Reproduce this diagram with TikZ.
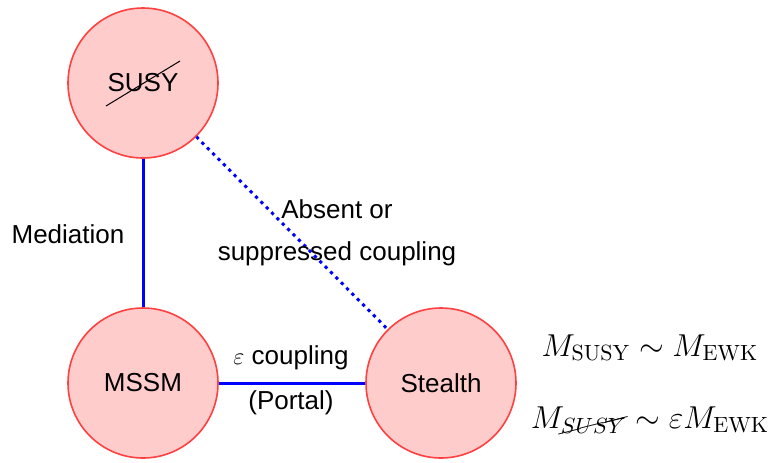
\documentclass[tikz,border=0pt]{standalone}
\usepackage{amssymb,amsmath}
\usepackage{cancel}
\usepackage{fontspec}
\setsansfont{Liberation Sans}
\usetikzlibrary{positioning}

\begin{document}
\begin{tikzpicture}[x=0.5pt,y=-0.5pt,
  sector/.style={circle,draw=red!75,fill=red!20,line width=0.8pt,minimum size=75pt},
  link/.style={blue,line width=1.5pt},
  weak/.style={blue,line width=1.5pt,dash pattern=on 1.6pt off 2.2pt},
  lbl/.style={font=\sffamily\fontsize{13}{21}\selectfont,align=center,inner sep=0pt}]
  \useasboundingbox (0,0) rectangle (773,462);

  % the three sectors
  \foreach \x/\y/\n/\t in {143/83/susy/SUSY, 143/383/mssm/MSSM, 441/383/stealth/Stealth}
    \node[lbl,sector] (\n) at (\x,\y) {\t};
  \draw[line width=0.5pt] (susy) ++(-37,23) -- ++(74,-45);

  \draw[link] (susy) -- (mssm);
  \draw[link] (mssm) -- (stealth);
  \draw[weak] (susy) -- (stealth);

  \node[lbl] (mediation) at (68,234) {Mediation};
  \node[lbl] (absent) at (337,233) {Absent or\\suppressed coupling};
  \node[lbl] (eps) at (291,358) {$\varepsilon$ coupling};
  \node[lbl] (portal) at (291,403) {(Portal)};

  % mass scales
  \node[font=\Large,scale=1.1] (mass) at (650,348) {$M_{\mathrm{SUSY}} \sim M_{\mathrm{EWK}}$};
  \node[font=\Large,scale=1.1] (stealthmass) at (650,420) {$M_{\cancel{SUSY}} \sim \varepsilon M_{\mathrm{EWK}}$};
\end{tikzpicture}
\end{document}
